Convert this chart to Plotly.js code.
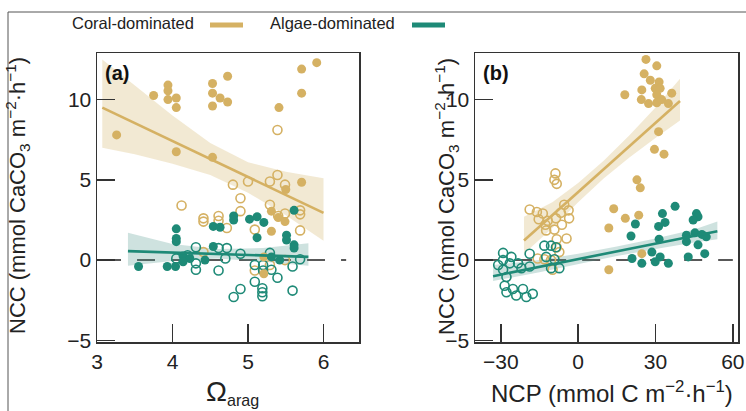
<!DOCTYPE html>
<html><head><meta charset="utf-8">
<script src="https://cdn.plot.ly/plotly-3.0.1.min.js"></script>
<style>html,body{margin:0;padding:0;background:#fff;}#chart{width:746px;height:411px;}</style>
</head><body><div id="chart"></div>
<script>
// ---- Panel (a): NCC vs Omega_arag ----
const aCoralFilledX = [3.75,3.94,3.94,3.94,4.05,4.05,3.26,4.05,4.53,4.53,4.63,4.73,4.53,4.73,4.53,5.41,5.71,5.91,5.71,5.71,5.50,5.31,5.40,5.49,5.31,5.21,5.21];
const aCoralFilledY = [10.25,10.9,10.55,10.0,10.1,9.5,7.8,6.75,11.0,10.4,10.1,9.85,9.6,11.45,6.4,9.5,11.9,12.3,10.4,4.85,4.4,3.05,2.65,2.4,1.8,0.2,-0.85];
const aCoralOpenX = [5.39,5.39,5.29,5.49,5.0,4.80,4.90,4.12,5.29,5.69,5.49,4.90,4.41,4.41,4.61,4.61,4.72,5.09,5.69,5.69,4.41,5.49,5.29,5.09,5.40];
const aCoralOpenY = [8.1,5.3,4.9,4.7,4.9,4.7,3.85,3.4,3.45,3.1,2.9,3.05,2.6,2.4,2.75,2.45,2.0,1.9,1.85,2.85,0.5,0.0,-0.3,-0.65,2.75];
const aAlgaeFilledX = [3.55,3.93,4.04,4.05,4.05,4.05,4.14,4.23,4.14,4.43,4.54,4.63,4.54,4.81,4.81,5.02,5.12,5.21,5.12,5.51,5.51,5.61,5.61,5.61,5.31,5.42];
const aAlgaeFilledY = [-0.4,-0.4,-0.4,1.95,1.35,1.15,0.25,0.1,-0.1,0.0,2.1,2.05,0.85,2.75,2.5,2.55,2.7,2.35,1.4,1.55,1.25,3.1,0.95,0.75,0.2,0.0];
const aAlgaeOpenX = [4.31,4.61,4.72,4.90,4.31,4.31,4.61,4.70,5.09,5.20,5.20,5.31,5.39,5.09,5.29,5.59,5.69,4.90,4.81,5.19,5.19,5.19,5.59,4.20,4.05];
const aAlgaeOpenY = [0.8,0.75,0.75,0.4,-0.2,-0.6,-0.65,0.1,-0.3,-0.3,-0.65,-0.6,-1.1,-1.35,0.45,-0.4,0.05,-1.8,-2.3,-1.75,-2.0,-2.25,-1.9,0.3,0.1];
// fits and confidence bands
const aCoralFitX = [3.07,3.5,4.0,4.5,5.0,5.5,6.0];
const aCoralFitY = [9.5,8.54,7.42,6.30,5.18,4.06,2.94];
const aCoralUpper = [12.5,10.9,9.0,7.3,6.1,5.5,5.1];
const aCoralLower = [7.0,6.6,6.0,5.3,4.2,2.8,1.2];
const aAlgaeFitX = [3.41,4.0,4.6,5.2,5.8];
const aAlgaeFitY = [0.56,0.47,0.38,0.29,0.2];
const aAlgaeUpper = [1.7,1.0,0.7,0.75,1.05];
const aAlgaeLower = [-0.35,-0.05,0.1,-0.1,-0.35];

// ---- Panel (b): NCC vs NCP ----
const bCoralFilledX = [26.3,30.5,25.6,28.0,31.4,24.7,29.9,31.8,30.5,36.3,18.1,24.5,27.3,30.5,32.4,35.0,31.2,29.6,33.3,22.8,24.1,13.8,18.3,23.5,11.9,24.7,11.9];
const bCoralFilledY = [12.5,12.1,11.6,11.2,11.1,10.6,10.7,10.7,10.3,10.4,10.3,10.0,9.75,9.8,10.0,9.75,8.0,6.9,6.6,5.0,4.5,3.2,2.6,2.8,2.0,0.4,-0.6];
const bCoralOpenX = [-8.8,-9.2,-8.3,-18.8,-16.0,-13.7,-15.3,-11.8,-8.6,-6.7,-5.4,-3.7,-6.3,-9.2,-12.4,-4.5,-8.3,-12.7,-3.5,-8.3,-7.3,-13.1,-15.7,-9.9,-10.5];
const bCoralOpenY = [5.4,5.0,4.75,3.15,3.0,2.9,2.55,2.45,2.6,2.95,3.45,3.1,2.2,1.9,1.85,1.35,1.3,2.2,2.6,0.8,0.5,0.05,0.1,-0.6,0.0];
const bAlgaeFilledX = [37.6,32.7,22.2,20.5,31.2,33.7,45.9,46.5,44.6,31.4,42.0,45.3,48.0,49.7,42.0,46.5,49.1,42.7,28.6,31.8,29.9,24.7,35.0,20.9];
const bAlgaeFilledY = [3.35,2.9,2.25,1.5,2.1,2.35,2.9,2.7,2.5,1.3,1.55,1.7,1.6,1.45,1.15,0.95,0.4,0.2,0.5,0.2,-0.1,-0.2,-0.2,0.1];
const bAlgaeOpenX = [-29.1,-25.9,-29.1,-26.5,-23.3,-22.0,-18.8,-29.1,-18.8,-27.8,-28.5,-25.3,-21.4,-27.8,-20.1,-17.6,-24.0,-13.1,-10.5,-8.6,-12.4,-9.2,-10.5,-7.3,-31.0];
const bAlgaeOpenY = [0.45,0.2,0.0,-0.2,-0.2,-0.5,-0.4,-0.6,0.4,-1.05,-1.6,-1.8,-1.8,-2.0,-2.3,-2.1,-2.2,0.9,0.9,0.8,0.2,0.05,-0.5,-0.5,-0.3];
const bCoralFitX = [-21,-10,0,10,20,30,39.5];
const bCoralFitY = [1.22,2.8,4.23,5.67,7.1,8.54,9.91];
const bCoralUpper = [2.7,3.6,4.8,6.2,7.8,9.5,11.3];
const bCoralLower = [0.4,2.0,3.6,5.1,6.4,7.6,8.7];
const bAlgaeFitX = [-33,-15,0,15,30,45,54];
const bAlgaeFitY = [-1.0,-0.42,0.06,0.55,1.03,1.51,1.8];
const bAlgaeUpper = [-0.3,0.0,0.4,0.85,1.35,1.9,2.4];
const bAlgaeLower = [-1.3,-0.75,-0.25,0.25,0.7,1.1,1.3];

const yTicks = [-5,0,5,10];
const yTickText = ['\u22125','0','5','10'];
const aTicks = [3,4,5,6];
const bTicks = [-30,0,30,60];
const bTickText = ['\u221230','0','30','60'];

const GOLD = '#D5B163';
const TEAL = '#1E8A77';
const GOLD_BAND = 'rgba(222,196,140,0.38)';
const TEAL_BAND = 'rgba(80,150,140,0.28)';

function band(x, lo, hi, color, xa, ya) {
  return {x: x.concat(x.slice().reverse()), y: hi.concat(lo.slice().reverse()),
    xaxis: xa, yaxis: ya, type: 'scatter', mode: 'lines', fill: 'toself',
    fillcolor: color, line: {width: 0}, hoverinfo: 'skip', showlegend: false};
}
function pts(x, y, color, open, xa, ya) {
  return {x: x, y: y, xaxis: xa, yaxis: ya, type: 'scatter', mode: 'markers', showlegend: false,
    marker: open ? {size: 9, color: 'rgba(255,255,255,0)', line: {color: color, width: 1.6}}
                 : {size: 9, color: color, line: {width: 0}}};
}
function fit(x, y, color, xa, ya) {
  return {x: x, y: y, xaxis: xa, yaxis: ya, type: 'scatter', mode: 'lines', showlegend: false,
    line: {color: color, width: 2.6}};
}

const data = [
  band(aCoralFitX, aCoralLower, aCoralUpper, GOLD_BAND, 'x', 'y'),
  band(aAlgaeFitX, aAlgaeLower, aAlgaeUpper, TEAL_BAND, 'x', 'y'),
  band(bCoralFitX, bCoralLower, bCoralUpper, GOLD_BAND, 'x2', 'y2'),
  band(bAlgaeFitX, bAlgaeLower, bAlgaeUpper, TEAL_BAND, 'x2', 'y2'),
  pts(aCoralOpenX, aCoralOpenY, GOLD, true, 'x', 'y'),
  pts(aAlgaeOpenX, aAlgaeOpenY, TEAL, true, 'x', 'y'),
  pts(aCoralFilledX, aCoralFilledY, GOLD, false, 'x', 'y'),
  pts(aAlgaeFilledX, aAlgaeFilledY, TEAL, false, 'x', 'y'),
  pts(bCoralOpenX, bCoralOpenY, GOLD, true, 'x2', 'y2'),
  pts(bAlgaeOpenX, bAlgaeOpenY, TEAL, true, 'x2', 'y2'),
  pts(bCoralFilledX, bCoralFilledY, GOLD, false, 'x2', 'y2'),
  pts(bAlgaeFilledX, bAlgaeFilledY, TEAL, false, 'x2', 'y2'),
  fit(aCoralFitX, aCoralFitY, GOLD, 'x', 'y'),
  fit(aAlgaeFitX, aAlgaeFitY, TEAL, 'x', 'y'),
  fit(bCoralFitX, bCoralFitY, GOLD, 'x2', 'y2'),
  fit(bAlgaeFitX, bAlgaeFitY, TEAL, 'x2', 'y2')
];

const FONT = 'Liberation Sans, Arial, Helvetica, sans-serif';
const axisCommon = {showline: true, mirror: true, linecolor: '#333', linewidth: 1.5,
  ticks: 'inside', ticklen: 18, tickwidth: 1.5, tickcolor: '#333',
  showgrid: false, zeroline: false, tickfont: {family: FONT, size: 21, color: '#222'}};

const W = 746, H = 411;
const px = v => v / W, py = v => 1 - v / H;

const layout = {
  width: W, height: H, margin: {l: 0, r: 0, t: 0, b: 0},
  paper_bgcolor: '#fff', plot_bgcolor: '#fff', showlegend: false,
  font: {family: FONT, color: '#222'},
  xaxis: Object.assign({}, axisCommon, {domain: [px(97), px(359)], range: [3, 6.47],
    tickmode: 'array', tickvals: aTicks, anchor: 'y'}),
  yaxis: Object.assign({}, axisCommon, {domain: [py(342), py(53)], range: [-5.1, 12.9],
    tickmode: 'array', tickvals: yTicks, ticktext: yTickText, anchor: 'x'}),
  xaxis2: Object.assign({}, axisCommon, {domain: [px(475), px(738)], range: [-40, 62],
    tickmode: 'array', tickvals: bTicks, ticktext: bTickText, anchor: 'y2'}),
  yaxis2: Object.assign({}, axisCommon, {domain: [py(342), py(53)], range: [-5.1, 12.9],
    tickmode: 'array', tickvals: yTicks, ticktext: yTickText, anchor: 'x2'}),
  shapes: [
    {type: 'line', xref: 'x', yref: 'y', x0: 3.08, x1: 6.3, y0: 0, y1: 0, layer: 'below',
     line: {color: '#222', width: 1.5, dash: '18px,16px'}},
    {type: 'line', xref: 'x2', yref: 'y2', x0: -38, x1: 60, y0: 0, y1: 0, layer: 'below',
     line: {color: '#222', width: 1.5, dash: '18px,16px'}},
    {type: 'line', xref: 'paper', yref: 'paper', x0: px(8), x1: 1, y0: py(12), y1: py(12),
     line: {color: '#555', width: 1}},
    {type: 'line', xref: 'paper', yref: 'paper', x0: px(8), x1: px(8), y0: py(12), y1: 0,
     line: {color: '#555', width: 1}},
    {type: 'line', xref: 'paper', yref: 'paper', x0: px(210), x1: px(243), y0: py(25), y1: py(25),
     line: {color: GOLD, width: 5}},
    {type: 'line', xref: 'paper', yref: 'paper', x0: px(412), x1: px(445), y0: py(25), y1: py(25),
     line: {color: TEAL, width: 5}}
  ],
  annotations: [
    {text: 'Coral-dominated', xref: 'paper', yref: 'paper', x: px(70), y: py(23), xanchor: 'left', yanchor: 'middle',
     showarrow: false, font: {family: FONT, size: 16.5, color: '#222'}},
    {text: 'Algae-dominated', xref: 'paper', yref: 'paper', x: px(268), y: py(23), xanchor: 'left', yanchor: 'middle',
     showarrow: false, font: {family: FONT, size: 16.5, color: '#222'}},
    {text: '<b>(a)</b>', xref: 'paper', yref: 'paper', x: px(103), y: py(73), xanchor: 'left', yanchor: 'middle',
     showarrow: false, font: {family: FONT, size: 20, color: '#111'}},
    {text: '<b>(b)</b>', xref: 'paper', yref: 'paper', x: px(481), y: py(73), xanchor: 'left', yanchor: 'middle',
     showarrow: false, font: {family: FONT, size: 20, color: '#111'}},
    {text: 'NCC (mmol CaCO<sub>3</sub> m<sup>\u22122</sup>\u00b7h<sup>\u22121</sup>)', xref: 'paper', yref: 'paper',
     x: px(17), y: py(196), textangle: -90, xanchor: 'center', yanchor: 'middle',
     showarrow: false, font: {family: FONT, size: 22, color: '#222'}},
    {text: 'NCC (mmol CaCO<sub>3</sub> m<sup>\u22122</sup>\u00b7h<sup>\u22121</sup>)', xref: 'paper', yref: 'paper',
     x: px(446), y: py(196), textangle: -90, xanchor: 'center', yanchor: 'middle',
     showarrow: false, font: {family: FONT, size: 22, color: '#222'}},
    {text: '<span style="font-size:28px">\u03a9</span><sub>arag</sub>', xref: 'paper', yref: 'paper',
     x: px(232), y: py(392), xanchor: 'center', yanchor: 'middle',
     showarrow: false, font: {family: FONT, size: 23, color: '#222'}},
    {text: 'NCP (mmol C m<sup>\u22122</sup>\u00b7h<sup>\u22121</sup>)', xref: 'paper', yref: 'paper',
     x: px(612), y: py(392), xanchor: 'center', yanchor: 'middle',
     showarrow: false, font: {family: FONT, size: 24, color: '#222'}}
  ]
};

Plotly.newPlot('chart', data, layout, {displayModeBar: false, staticPlot: true});
</script>
</body></html>
